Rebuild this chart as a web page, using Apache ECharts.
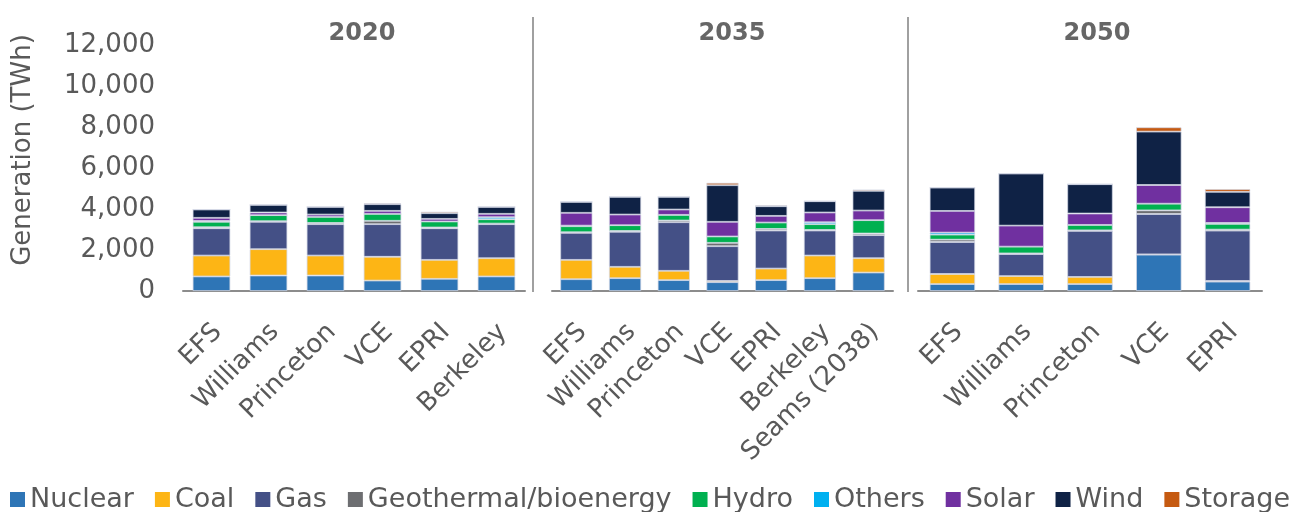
<!DOCTYPE html>
<html>
<head>
<meta charset="utf-8">
<script src="https://cdn.jsdelivr.net/npm/echarts@6/dist/echarts.min.js"></script>
<style>
html,body{margin:0;padding:0;background:#fff;}
#chart{width:1295px;height:512px;}
</style>
</head>
<body>
<div id="chart"></div>
<script>
// ---- Data ----
const periods = ['2020', '2035', '2050'];
const categories2020 = ['EFS', 'Williams', 'Princeton', 'VCE', 'EPRI', 'Berkeley'];
const categories2035 = ['EFS', 'Williams', 'Princeton', 'VCE', 'EPRI', 'Berkeley', 'Seams (2038)'];
const categories2050 = ['EFS', 'Williams', 'Princeton', 'VCE', 'EPRI'];
const sourceNames = ['Nuclear', 'Coal', 'Gas', 'Geothermal/bioenergy', 'Hydro', 'Others', 'Solar', 'Wind', 'Storage'];
const yTicks = [0, 2000, 4000, 6000, 8000, 10000, 12000];

const nuclear2020 = [710, 755, 755, 510, 595, 710];
const coal2020    = [1020, 1285, 975, 1160, 925, 890];
const gas2020     = [1330, 1335, 1530, 1590, 1540, 1660];
const geo2020     = [50, 30, 60, 165, 40, 30];
const hydro2020   = [265, 295, 300, 340, 290, 210];
const others2020  = [40, 0, 0, 0, 0, 100];
const solar2020   = [155, 130, 110, 145, 130, 165];
const wind2020    = [405, 375, 375, 325, 275, 340];
const storage2020 = [0, 0, 0, 50, 70, 0];

const nuclear2035 = [575, 625, 530, 430, 530, 625, 900];
const coal2035    = [945, 555, 455, 60, 565, 1105, 700];
const gas2035     = [1315, 1710, 2370, 1695, 1855, 1220, 1125];
const geo2035     = [30, 40, 85, 165, 80, 30, 80];
const hydro2035   = [295, 280, 275, 310, 310, 280, 650];
const others2035  = [30, 0, 0, 0, 0, 95, 0];
const solar2035   = [625, 520, 260, 715, 325, 475, 470];
const wind2035    = [535, 865, 620, 1785, 470, 550, 960];
const storage2035 = [0, 0, 0, 115, 50, 0, 65];

const nuclear2050 = [340, 340, 340, 1770, 455];
const coal2050    = [490, 390, 345, 20, 35];
const gas2050     = [1560, 1075, 2245, 1965, 2455];
const geo2050     = [115, 30, 30, 180, 50];
const hydro2050   = [245, 330, 265, 325, 275];
const others2050  = [100, 0, 0, 0, 50];
const solar2050   = [1055, 1025, 555, 910, 765];
const wind2050    = [1140, 2540, 1430, 2605, 750];
const storage2050 = [0, 0, 0, 210, 130];

// ---- Build ----
const colors = ['#2E75B6', '#FDB515', '#445086', '#6D6E71', '#00B050', '#00B0F0', '#7030A0', '#0F2245', '#C55A11'];
const panelCats = [categories2020, categories2035, categories2050];
const panelData = [
  [nuclear2020, coal2020, gas2020, geo2020, hydro2020, others2020, solar2020, wind2020, storage2020],
  [nuclear2035, coal2035, gas2035, geo2035, hydro2035, others2035, solar2035, wind2035, storage2035],
  [nuclear2050, coal2050, gas2050, geo2050, hydro2050, others2050, solar2050, wind2050, storage2050]
];

const FONT = 'DejaVu Sans';
const TXT = '#595959';
const gridLefts = [183, 552, 918];
const gridWidths = [342, 341, 344];
const titleCenters = [357, 727, 1092];

const grids = [], xAxes = [], yAxes = [], series = [], titles = [];
for (let p = 0; p < 3; p++) {
  grids.push({left: gridLefts[p], width: gridWidths[p], top: 45, bottom: 221, containLabel: false, outerBoundsMode: 'none'});
  xAxes.push({
    type: 'category', gridIndex: p, data: panelCats[p],
    axisLine: {show: true, lineStyle: {color: '#8C8C8C', width: 2}},
    axisTick: {show: false},
    axisLabel: {rotate: 45, interval: 0, margin: 25, verticalAlign: 'top', padding: [0, 4, 0, 0],
      color: TXT, fontFamily: FONT, fontSize: 26}
  });
  yAxes.push({
    type: 'value', gridIndex: p, min: yTicks[0], max: yTicks[yTicks.length - 1], interval: yTicks[1] - yTicks[0],
    splitLine: {show: false},
    axisLine: {show: false}, axisTick: {show: false},
    axisLabel: {show: p === 0, margin: 28, color: TXT, fontFamily: FONT, fontSize: 26,
      formatter: v => v.toLocaleString('en-US')}
  });
  titles.push({text: periods[p], left: titleCenters[p], top: 17, textAlign: 'center',
    textStyle: {fontFamily: FONT, fontSize: 24, fontWeight: 'bold', color: '#666666'}});
  for (let s = 0; s < sourceNames.length; s++) {
    series.push({
      name: sourceNames[s], type: 'bar', stack: 'p' + p,
      xAxisIndex: p, yAxisIndex: p,
      barCategoryGap: '34%',
      data: panelData[p][s],
      itemStyle: {color: colors[s], borderColor: 'rgba(210,214,228,0.9)', borderWidth: 0.8},
      emphasis: {disabled: true}
    });
  }
}

const chart = echarts.init(document.getElementById('chart'), null, {renderer: 'canvas'});
chart.setOption({
  animation: false,
  backgroundColor: '#ffffff',
  color: colors,
  title: titles,
  grid: grids,
  xAxis: xAxes,
  yAxis: yAxes,
  legend: {
    data: sourceNames, left: 10, top: 486, padding: 0,
    icon: 'rect', itemWidth: 15, itemHeight: 15, itemGap: 21,
    selectedMode: false,
    itemStyle: {borderWidth: 0},
    textStyle: {fontFamily: FONT, fontSize: 27, color: TXT}
  },
  graphic: [
    {type: 'line', shape: {x1: 533, y1: 17, x2: 533, y2: 292}, style: {stroke: '#808080', lineWidth: 1.5}},
    {type: 'line', shape: {x1: 908, y1: 17, x2: 908, y2: 292}, style: {stroke: '#808080', lineWidth: 1.5}},
    {type: 'text', x: 23, y: 150, rotation: Math.PI / 2,
     style: {text: 'Generation (TWh)', fill: TXT, font: '26px "DejaVu Sans"', align: 'center', verticalAlign: 'middle'}}
  ],
  series: series
});
</script>
</body>
</html>
